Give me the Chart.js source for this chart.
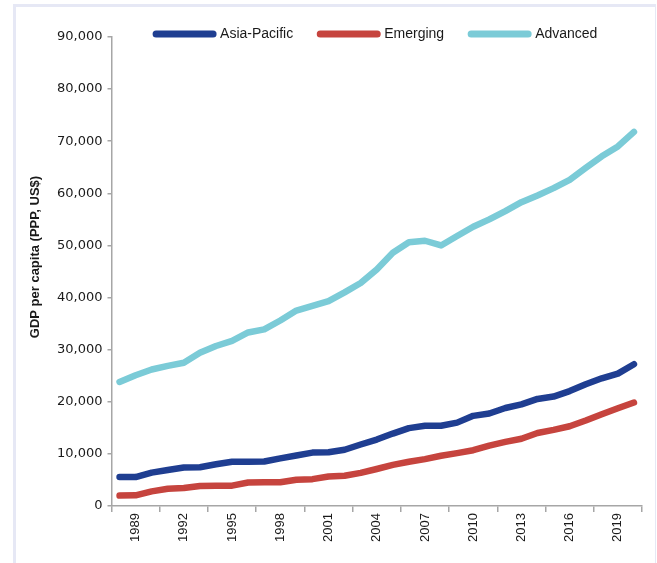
<!DOCTYPE html>
<html>
<head>
<meta charset="utf-8">
<script src="https://cdn.jsdelivr.net/npm/chart.js@4/dist/chart.umd.min.js"></script>
<style>
  html, body { margin: 0; padding: 0; background: #ffffff; }
  #wrap { position: relative; width: 657px; height: 563px; overflow: hidden; }
  #frame { position: absolute; left: 13px; top: 4px; width: 643px; height: 620px;
           border-style: solid; border-color: #e6e8f5; border-width: 3px 1px 0 3px; box-sizing: border-box; }
  #c { position: absolute; left: 0; top: 0; }
</style>
</head>
<body>
<div id="wrap">
  <div id="frame"></div>
  <canvas id="c" width="657" height="563"></canvas>
</div>
<script>
const years = [1988,1989,1990,1991,1992,1993,1994,1995,1996,1997,1998,1999,2000,2001,2002,2003,2004,2005,2006,2007,2008,2009,2010,2011,2012,2013,2014,2015,2016,2017,2018,2019,2020];
const seriesNames = ['Asia-Pacific', 'Emerging', 'Advanced'];
const asiaPacific = [5550,5550,6400,6900,7400,7450,8000,8500,8500,8550,9150,9700,10250,10300,10800,11800,12750,13900,14950,15400,15400,16000,17300,17750,18800,19500,20550,21000,22050,23350,24500,25400,27200];
const emerging = [2000,2050,2800,3300,3450,3850,3900,3900,4500,4550,4550,5050,5150,5650,5800,6350,7100,7900,8500,9000,9650,10150,10700,11600,12300,12900,14000,14600,15300,16400,17600,18750,19850];
const advanced = [23800,25100,26200,26900,27500,29400,30700,31700,33300,33900,35600,37500,38400,39300,41000,42800,45400,48600,50600,50900,50000,51800,53600,55000,56600,58300,59600,61000,62600,64900,67100,69000,71800];
const yMin = 0, yMax = 90000, yStep = 10000;
const xLabelEvery = 3;
const yTitle = 'GDP per capita (PPP, US$)';

const axisGrey = '#a6a6a6';
const colors = ['#1f3e91', '#c6443e', '#7bcbd7'];

const mk = (label, data, color) => ({
  label, data,
  borderColor: color, backgroundColor: color,
  borderWidth: 6.5, pointRadius: 0, pointHoverRadius: 0,
  borderCapStyle: 'round', borderJoinStyle: 'round', tension: 0, fill: false
});

// let the legend (which sits just above the plot area) draw past its reserved box
const legendClipFix = {
  id: 'legendClipFix',
  afterLayout(chart) {
    if (chart.legend) { chart.legend.bottom = chart.legend.top + 60; }
  }
};

new Chart(document.getElementById('c'), {
  type: 'line',
  data: {
    labels: years.map(String),
    datasets: [
      mk(seriesNames[0], asiaPacific, colors[0]),
      mk(seriesNames[1], emerging, colors[1]),
      mk(seriesNames[2], advanced, colors[2])
    ]
  },
  plugins: [legendClipFix],
  options: {
    responsive: false,
    animation: false,
    events: [],
    layout: { padding: { top: 0, right: 15, bottom: 0, left: 22 } },
    plugins: {
      tooltip: { enabled: false },
      legend: {
        position: 'top',
        fullSize: false,
        maxHeight: 37,
        labels: {
          usePointStyle: true,
          pointStyle: 'line',
          pointStyleWidth: 57,
          padding: 27,
          color: '#1a1a1a',
          font: { family: "'Liberation Sans', Arial, sans-serif", size: 14 },
          generateLabels: (chart) => Chart.defaults.plugins.legend.labels.generateLabels(chart)
            .map(l => Object.assign(l, { lineCap: 'round', lineWidth: 7 }))
        }
      }
    },
    scales: {
      x: {
        type: 'category',
        offset: true,
        afterFit: (s) => { s.height = 57; },
        border: { display: true, color: axisGrey, width: 1.5 },
        grid: {
          display: true, drawOnChartArea: false, drawTicks: true, offset: true,
          tickLength: 6, lineWidth: 1.5,
          color: (c) => (c.index === undefined || c.index % xLabelEvery === 0) ? axisGrey : 'rgba(0,0,0,0)'
        },
        ticks: {
          autoSkip: false, maxRotation: 90, minRotation: 90, padding: 1,
          color: '#1a1a1a',
          font: { family: "'Liberation Sans', Arial, sans-serif", size: 13 },
          callback: function(v, i) { return i % xLabelEvery === 1 ? this.getLabelForValue(v) : ''; }
        }
      },
      y: {
        type: 'linear',
        min: yMin, max: yMax,
        afterFit: (s) => { s.width = 89.5; },
        border: { display: true, color: axisGrey, width: 1.5 },
        grid: { display: true, drawOnChartArea: false, drawTicks: true, tickLength: 4, lineWidth: 1.5, color: axisGrey },
        ticks: {
          stepSize: yStep, padding: 5, color: '#1a1a1a',
          font: { family: "'DejaVu Sans', sans-serif", size: 13 },
          callback: (v) => v.toLocaleString('en-US')
        },
        title: {
          display: true,
          text: '\u00a0\u00a0\u00a0\u00a0\u00a0\u00a0\u00a0\u00a0' + yTitle,
          color: '#1a1a1a',
          font: { family: "'Liberation Sans', Arial, sans-serif", size: 13, weight: 'bold' },
          padding: { top: 6, bottom: 0 }
        }
      }
    }
  }
});
</script>
</body>
</html>
